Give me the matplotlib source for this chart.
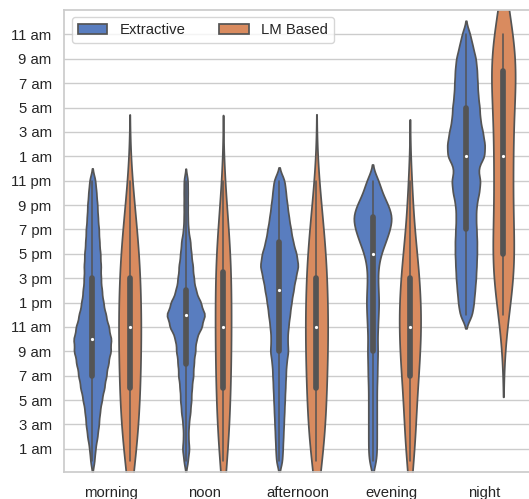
import numpy as np
import pandas as pd
import matplotlib
matplotlib.use("Agg")
import matplotlib.pyplot as plt
import seaborn as sns

categories = ["morning", "noon", "afternoon", "evening", "night"]
methods = ["Extractive", "LM Based"]

# answers per hour of day; hours after midnight continue as 24, 25, ...
ext_first_hour = [0, 0, 0, 0, 12]
ext_morning = [1200, 1800, 3000, 3900, 4500, 5700, 7200, 8400, 9600, 11100, 11400, 9900,
               8100, 6600, 5700, 5100, 5100, 4800, 4200, 3900, 3300, 3000, 2400, 1800]
ext_noon = [1200, 2100, 1500, 1800, 2700, 3300, 3600, 4500, 4800, 5700, 6300, 9600,
            11700, 9000, 6000, 4800, 4200, 3300, 2700, 1500, 1200, 1200, 1200, 1200]
ext_afternoon = [1800, 2100, 2400, 2700, 3000, 3300, 3600, 3900, 4200, 5400, 4800, 5400,
                 6300, 7200, 8400, 9600, 11400, 10200, 8100, 6900, 5700, 4800, 3900, 3300]
ext_evening = [2100, 2400, 2400, 2400, 2400, 2400, 2400, 2700, 2700, 3000, 2700, 3000,
               3300, 3600, 3300, 3000, 3300, 4800, 7500, 9900, 11400, 9000, 5400, 3600]
ext_night = [3600, 4500, 5100, 5700, 6000, 6300, 6300, 6000, 5700, 6000, 7500, 8400,
             6600, 10800, 10800, 9600, 8100, 7800, 6900, 6600, 6300, 5700, 3900, 2400]

lm_first_hour = [0, 0, 0, 0, 12]
lm_morning = [3, 2, 2, 2, 3, 3, 3, 3, 3, 3, 3, 4, 3, 3, 3, 3, 3, 3, 2, 2, 2, 1, 1, 1]
lm_noon = [3, 2, 2, 2, 3, 3, 3, 3, 3, 3, 4, 3, 3, 3, 4, 3, 3, 3, 3, 2, 2, 1, 1, 1]
lm_afternoon = [3, 2, 2, 3, 2, 3, 3, 3, 3, 3, 3, 4, 3, 3, 3, 3, 3, 3, 2, 2, 2, 1, 1, 1]
lm_evening = [2, 2, 2, 2, 2, 2, 3, 3, 3, 4, 4, 4, 4, 4, 4, 3, 3, 3, 2, 1, 1, 1, 1, 1]
lm_night = [1, 1, 2, 2, 3, 4, 1, 1, 2, 1, 2, 1, 3, 2, 1, 2, 1, 2, 2, 2, 3, 3, 3, 4]

tick_hours = [1, 3, 5, 7, 9, 11, 13, 15, 17, 19, 21, 23, 25, 27, 29, 31, 33, 35]
tick_labels = ["1 am", "3 am", "5 am", "7 am", "9 am", "11 am",
               "1 pm", "3 pm", "5 pm", "7 pm", "9 pm", "11 pm",
               "1 am", "3 am", "5 am", "7 am", "9 am", "11 am"]

ext_counts = [ext_morning, ext_noon, ext_afternoon, ext_evening, ext_night]
lm_counts = [lm_morning, lm_noon, lm_afternoon, lm_evening, lm_night]

frames = []
for method, all_counts, firsts in [("Extractive", ext_counts, ext_first_hour),
                                    ("LM Based", lm_counts, lm_first_hour)]:
    for cat, counts, first in zip(categories, all_counts, firsts):
        hours = np.arange(first, first + len(counts))
        vals = np.repeat(hours, counts).astype(float)
        frames.append(pd.DataFrame({"period": cat, "method": method, "hour": vals}))
df = pd.concat(frames, ignore_index=True)

sns.set_theme(style="whitegrid", palette="muted")
plt.rcParams["font.family"] = ["Liberation Sans", "DejaVu Sans"]

fig = plt.figure(figsize=(5.29, 4.99), dpi=100)
ax = fig.add_axes([64.3 / 529, 27 / 499, 467 / 529, 462 / 499])

# one call per period so both violins of a period share the same area scaling
for i, cat in enumerate(categories):
    sns.violinplot(data=df[df["period"] == cat], x="period", y="hour", hue="method",
                   order=categories, hue_order=methods, inner="box",
                   density_norm="area", common_norm=True, linewidth=1.25,
                   inner_kws=dict(box_width=4.1, whis_width=1.1, marker="o",
                                  markersize=2.3, markeredgewidth=0),
                   legend="auto" if i == 0 else False, ax=ax)

ax.set_xlim(-0.5, 4.5)
ax.set_ylim(-0.9, 37)
ax.set_yticks(tick_hours)
ax.set_yticklabels(tick_labels)
ax.set_xlabel("")
ax.set_ylabel("")
ax.tick_params(axis="both", labelsize=10.7, length=0)
ax.tick_params(axis="x", pad=9.8)
ax.tick_params(axis="y", pad=9.1)
sns.move_legend(ax, "upper left", ncol=2, title=None, fontsize=10.7,
                columnspacing=2.3)

fig.savefig("out.png", dpi=100)
